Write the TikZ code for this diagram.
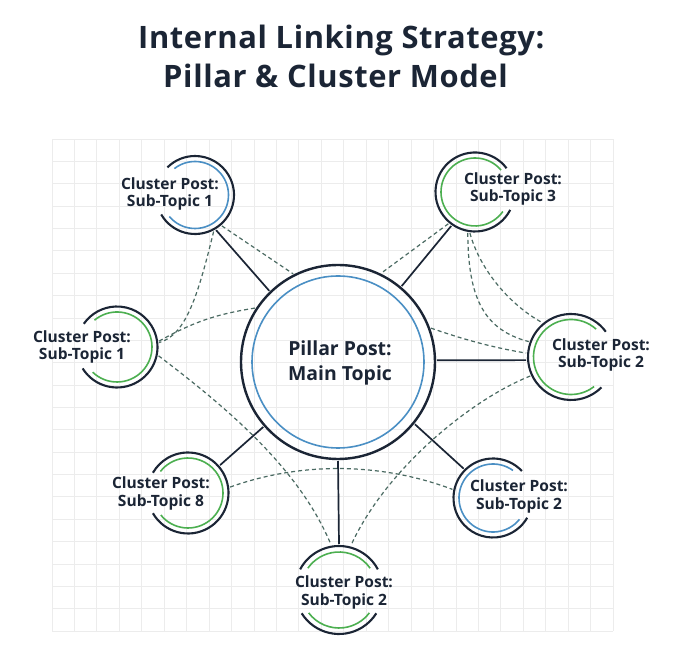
\documentclass[tikz,border=0pt]{standalone}
\usepackage{fontspec}
\setmainfont{Open Sans}
\definecolor{ink}{HTML}{1B2535}
\definecolor{bluec}{HTML}{4A8FC4}
\definecolor{greenc}{HTML}{4CAF50}
\definecolor{dashc}{HTML}{4A6A62}
\definecolor{gridc}{HTML}{ECECEC}
\tikzset{
  gridline/.style={draw=gridc, line width=0.8bp},
  hub/.style={circle, inner sep=0pt, outer sep=2bp, draw=none},
  ring/.style={draw=ink, line width=2.1bp},
  bluering/.style={draw=bluec, line width=1.6bp},
  greenring/.style={draw=greenc, line width=1.6bp},
  link/.style={draw=ink, line width=1.7bp},
  xlink/.style={draw=dashc, line width=1.2bp, dash pattern=on 4bp off 3bp},
  lbl/.style={align=center, text=ink, inner sep=0pt, font=\bfseries\fontsize{15.6}{18}\selectfont},
  ttl/.style={text=ink, inner sep=0pt, font=\bfseries\fontsize{31}{32}\selectfont\addfontfeatures{LetterSpace=2}}
}
\begin{document}
\begin{tikzpicture}[x=1bp,y=1bp]
\useasboundingbox (0,0) rectangle (694,663);
\fill[white] (0,0) rectangle (694,663);
% grid
\foreach \i in {0,...,25} \draw[gridline] ({52+\i*22.44},32) -- ({52+\i*22.44},524);
\foreach \j in {0,...,22} \draw[gridline] (52,{32+\j*22.36}) -- (613,{32+\j*22.36});
% title
\node[ttl, anchor=base west] (T1) at (138,614) {Internal Linking Strategy:};
\node[ttl, anchor=base west] (T2) at (163,575) {Pillar \& Cluster Model};
% hub nodes
\node[hub, minimum size=194bp] (P) at (338,301) {};
\node[hub, minimum size=78bp] (A) at (195,468) {};
\node[hub, minimum size=79bp] (B) at (475,471) {};
\node[hub, minimum size=86bp] (C) at (571,306) {};
\node[hub, minimum size=81bp] (D) at (117,316) {};
\node[hub, minimum size=81bp] (E) at (188,170) {};
\node[hub, minimum size=79bp] (F) at (493,165) {};
\node[hub, minimum size=88bp] (G) at (339,73) {};
% dashed links
\draw[xlink] (A.-49) -- (P.117);
\draw[xlink] (A.-63) .. controls (197,363) and (185,328) .. (D.6);
\draw[xlink] (D.8) to[bend left=10] (P.147);
\draw[xlink] (D.-12) .. controls (230,253) and (300,193) .. (G.100);
\draw[xlink] (E.8) .. controls (300,201) and (380,201) .. (F.168);
\draw[xlink] (C.205) .. controls (470,263) and (385,193) .. (G.75);
\draw[xlink] (P.20) .. controls (465,323) and (495,315) .. (C.175);
\draw[xlink] (B.-100) .. controls (468,363) and (485,333) .. (C.160);
\draw[xlink] (B.-97) .. controls (480,393) and (510,358) .. (C.130);
\draw[xlink] (B.-130) -- (P.64);
% solid links
\draw[link] (P.134) -- (A.-59);
\draw[link] (P.50) -- (B.-125);
\draw[link] (P.1) -- (C.184);
\draw[link] (P.-139) -- (E.41);
\draw[link] (P.-39.5) -- (F.135);
\draw[link] (P.-90) -- (G.90);
% rings
\draw[ring, line width=2.4bp] (P.center) circle[radius=97];
\draw[bluering] (P.center) circle[radius=86];
\draw[ring] (A.center) ++(-150:39) arc[start angle=-150, end angle=135, radius=39];
\draw[bluering] (A.center) ++(-140:33.5) arc[start angle=-140, end angle=128, radius=33.5];
\draw[ring] (B.center) ++(37:39.5) arc[start angle=37, end angle=333, radius=39.5];
\draw[greenring] (B.center) ++(40:34) arc[start angle=40, end angle=325, radius=34];
\draw[ring] (C.center) ++(36:43) arc[start angle=36, end angle=315, radius=43];
\draw[greenring] (C.center) ++(48:37.5) arc[start angle=48, end angle=308, radius=37.5];
\draw[ring] (D.center) ++(-148:40.5) arc[start angle=-148, end angle=145, radius=40.5];
\draw[greenring] (D.center) ++(-134:35) arc[start angle=-134, end angle=130, radius=35];
\draw[ring] (E.center) ++(-150:40.5) arc[start angle=-150, end angle=150, radius=40.5];
\draw[greenring] (E.center) ++(-141:35) arc[start angle=-141, end angle=142, radius=35];
\draw[ring] (F.center) ++(43:39.5) arc[start angle=43, end angle=330, radius=39.5];
\draw[bluering] (F.center) ++(54:34) arc[start angle=54, end angle=321, radius=34];
\draw[ring] (G.center) ++(28:44) arc[start angle=28, end angle=152, radius=44];
\draw[ring] (G.center) ++(-148:44) arc[start angle=-148, end angle=-32, radius=44];
\draw[greenring] (G.center) ++(35:38) arc[start angle=35, end angle=145, radius=38];
\draw[greenring] (G.center) ++(-143:38) arc[start angle=-143, end angle=-37, radius=38];
% labels
\node[lbl, font=\bfseries\fontsize{19.5}{25}\selectfont] (Pt) at (340,300) {Pillar Post:\\Main Topic};
\node[lbl] (At) at (170,469) {Cluster Post:\\Sub-Topic 1};
\node[lbl] (Bt) at (513,474) {Cluster Post:\\Sub-Topic 3};
\node[lbl] (Ct) at (601,308) {Cluster Post:\\Sub-Topic 2};
\node[lbl] (Dt) at (82,316) {Cluster Post:\\Sub-Topic 1};
\node[lbl] (Et) at (161,170) {Cluster Post:\\Sub-Topic 8};
\node[lbl] (Ft) at (519,167) {Cluster Post:\\Sub-Topic 2};
\node[lbl] (Gt) at (344,71) {Cluster Post:\\Sub-Topic 2};
\end{tikzpicture}
\end{document}
